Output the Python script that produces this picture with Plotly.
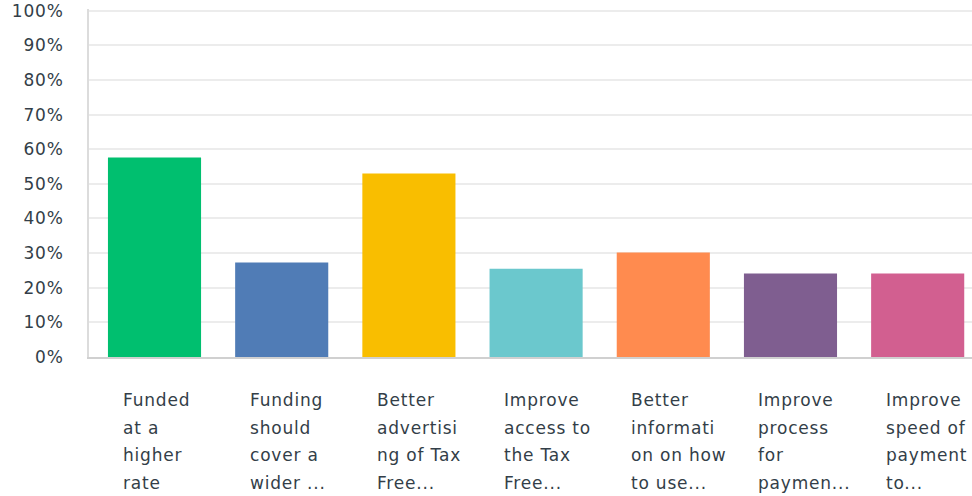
import plotly.graph_objects as go

categories = ["Funded at a higher rate", "Funding should cover a wider ...",
              "Better advertising of Tax Free...", "Improve access to the Tax Free...",
              "Better information on how to use...", "Improve process for paymen...",
              "Improve speed of payment to..."]
label_lines = [
    ["Funded", "at a", "higher", "rate"],
    ["Funding", "should", "cover a", "wider ..."],
    ["Better", "advertisi", "ng of Tax", "Free..."],
    ["Improve", "access to", "the Tax", "Free..."],
    ["Better", "informati", "on on how", "to use..."],
    ["Improve", "process", "for", "paymen..."],
    ["Improve", "speed of", "payment", "to..."],
]
values = [57.6, 27.3, 53.0, 25.5, 30.2, 24.1, 24.1]
colors = ["#00bf6f", "#507cb6", "#f9be00", "#6bc8cd", "#ff8b4f", "#7f5e90", "#d25f90"]
yticks = list(range(0, 101, 10))

TEXT = "#333e48"
FONT = "DejaVu Sans"
SP = "<span style='letter-spacing:0.8px'>{}</span>"

fig = go.Figure(go.Bar(
    x=categories, y=values, marker=dict(color=colors, line=dict(width=0)),
    hoverinfo="skip"))

annotations = []
for cat, lines in zip(categories, label_lines):
    for i, ln in enumerate(lines):
        annotations.append(dict(
            x=cat, xref="x", y=0, yref="paper", text=SP.format(ln), showarrow=False,
            xanchor="left", yanchor="middle", xshift=-34, yshift=-(43 + 27.7 * i),
            font=dict(family=FONT, size=17, color=TEXT)))

fig.update_layout(
    width=972, height=496,
    margin=dict(l=89, r=0, t=9, b=139),
    plot_bgcolor="white", paper_bgcolor="white",
    showlegend=False, bargap=0.268,
    annotations=annotations,
    xaxis=dict(range=[-0.515, 6.427], showticklabels=False, showgrid=False,
               showline=True, linecolor="#d0d0d0", linewidth=2, ticks=""),
    yaxis=dict(range=[0, 100.5], tickvals=yticks,
               ticktext=[SP.format(f"{v}%") for v in yticks],
               showgrid=True, gridcolor="#ececec", gridwidth=1.5,
               showline=True, linecolor="#dcdcdc", linewidth=2,
               ticks="outside", ticklen=20, tickcolor="rgba(0,0,0,0)",
               zeroline=False,
               tickfont=dict(family=FONT, size=17, color=TEXT)),
)

fig.write_html("out.html", config={"displayModeBar": False},
               post_script="document.body.style.margin='0';")
